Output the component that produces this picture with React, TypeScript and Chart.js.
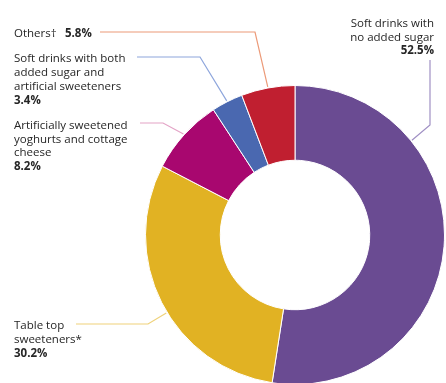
import React, { useEffect, useRef } from "react";
import { Chart, registerables } from "chart.js";

Chart.register(...registerables);

const categories = [
  "Soft drinks with no added sugar",
  "Table top sweeteners*",
  "Artificially sweetened yoghurts and cottage cheese",
  "Soft drinks with both added sugar and artificial sweeteners",
  "Others†",
];
const values = [52.5, 30.2, 8.2, 3.4, 5.8];
const valueLabels = ["52.5%", "30.2%", "8.2%", "3.4%", "5.8%"];
const labelLines = [
  ["Soft drinks with", "no added sugar"],
  ["Table top", "sweeteners*"],
  ["Artificially sweetened", "yoghurts and cottage", "cheese"],
  ["Soft drinks with both", "added sugar and", "artificial sweeteners"],
  ["Others†"],
];

const colors = ["#6a4b92", "#e1b223", "#a8076f", "#4a68b0", "#c01f30"];
const leaderColors = ["#a090c4", "#efd27a", "#e3a3c6", "#8ea6dc", "#ec9a78"];

// Label layout (positions only)
type Layout = {
  x: number;
  y: number;
  lh: number;
  align: "left" | "right";
  inlineValueX?: number;
  path: [number, number][];
  frac: number;
};
const layouts: Layout[] = [
  { x: 434, y: 27, lh: 13.5, align: "right", path: [[430, 60], [430, 125]], frac: 0.27 },
  { x: 14, y: 329, lh: 14, align: "left", path: [[76, 324], [148, 324]], frac: 0.46 },
  { x: 14, y: 129, lh: 13.7, align: "left", path: [[140, 123], [163, 123]], frac: 0.5 },
  { x: 14, y: 62, lh: 14, align: "left", path: [[137, 57], [200, 57]], frac: 0.5 },
  { x: 14, y: 37, lh: 14, align: "left", inlineValueX: 65, path: [[100, 32], [255, 32]], frac: 0.5 },
];

const FONT = "'Open Sans', sans-serif";
const SIZE = 11.5;

const labelPlugin = {
  id: "calloutLabels",
  afterDraw(chart: any) {
    const ctx = chart.ctx;
    const meta = chart.getDatasetMeta(0);
    ctx.save();
    meta.data.forEach((arc: any, i: number) => {
      const p = arc.getProps(["x", "y", "startAngle", "endAngle", "outerRadius"], true);
      const L = layouts[i];
      const a = p.startAngle + (p.endAngle - p.startAngle) * L.frac;
      const ex = p.x + (p.outerRadius + 1) * Math.cos(a);
      const ey = p.y + (p.outerRadius + 1) * Math.sin(a);
      ctx.strokeStyle = leaderColors[i];
      ctx.lineWidth = 1.2;
      ctx.beginPath();
      ctx.moveTo(L.path[0][0], L.path[0][1]);
      for (let k = 1; k < L.path.length; k++) ctx.lineTo(L.path[k][0], L.path[k][1]);
      ctx.lineTo(ex, ey);
      ctx.stroke();

      ctx.fillStyle = "#262626";
      ctx.textAlign = L.align;
      ctx.textBaseline = "alphabetic";
      ctx.font = `${SIZE}px ${FONT}`;
      const lines = labelLines[i];
      lines.forEach((t, k) => ctx.fillText(t, L.x, L.y + k * L.lh));
      ctx.font = `bold ${SIZE}px ${FONT}`;
      if (L.inlineValueX !== undefined) {
        ctx.textAlign = "left";
        ctx.fillText(valueLabels[i], L.inlineValueX, L.y);
      } else {
        ctx.fillText(valueLabels[i], L.x, L.y + lines.length * L.lh);
      }
    });
    ctx.restore();
  },
};

export default function App() {
  const ref = useRef<HTMLCanvasElement | null>(null);
  useEffect(() => {
    if (!ref.current) return;
    const chart = new Chart(ref.current, {
      type: "doughnut",
      data: {
        labels: categories,
        datasets: [
          {
            data: values,
            backgroundColor: colors,
            borderColor: "#ffffff",
            borderWidth: 1,
          },
        ],
      },
      options: {
        responsive: false,
        animation: false,
        devicePixelRatio: 1,
        cutout: "50%",
        layout: { padding: { left: 145, top: 85, right: 1, bottom: 15 } },
        plugins: {
          legend: { display: false },
          tooltip: { enabled: false },
        },
      },
      plugins: [labelPlugin],
    });
    return () => chart.destroy();
  }, []);
  return (
    <div
      style={{
        position: "absolute",
        left: 0,
        top: 0,
        width: 446,
        height: 383,
        overflow: "hidden",
        background: "#ffffff",
      }}
    >
      <canvas ref={ref} width={446} height={400} style={{ display: "block" }} />
    </div>
  );
}
